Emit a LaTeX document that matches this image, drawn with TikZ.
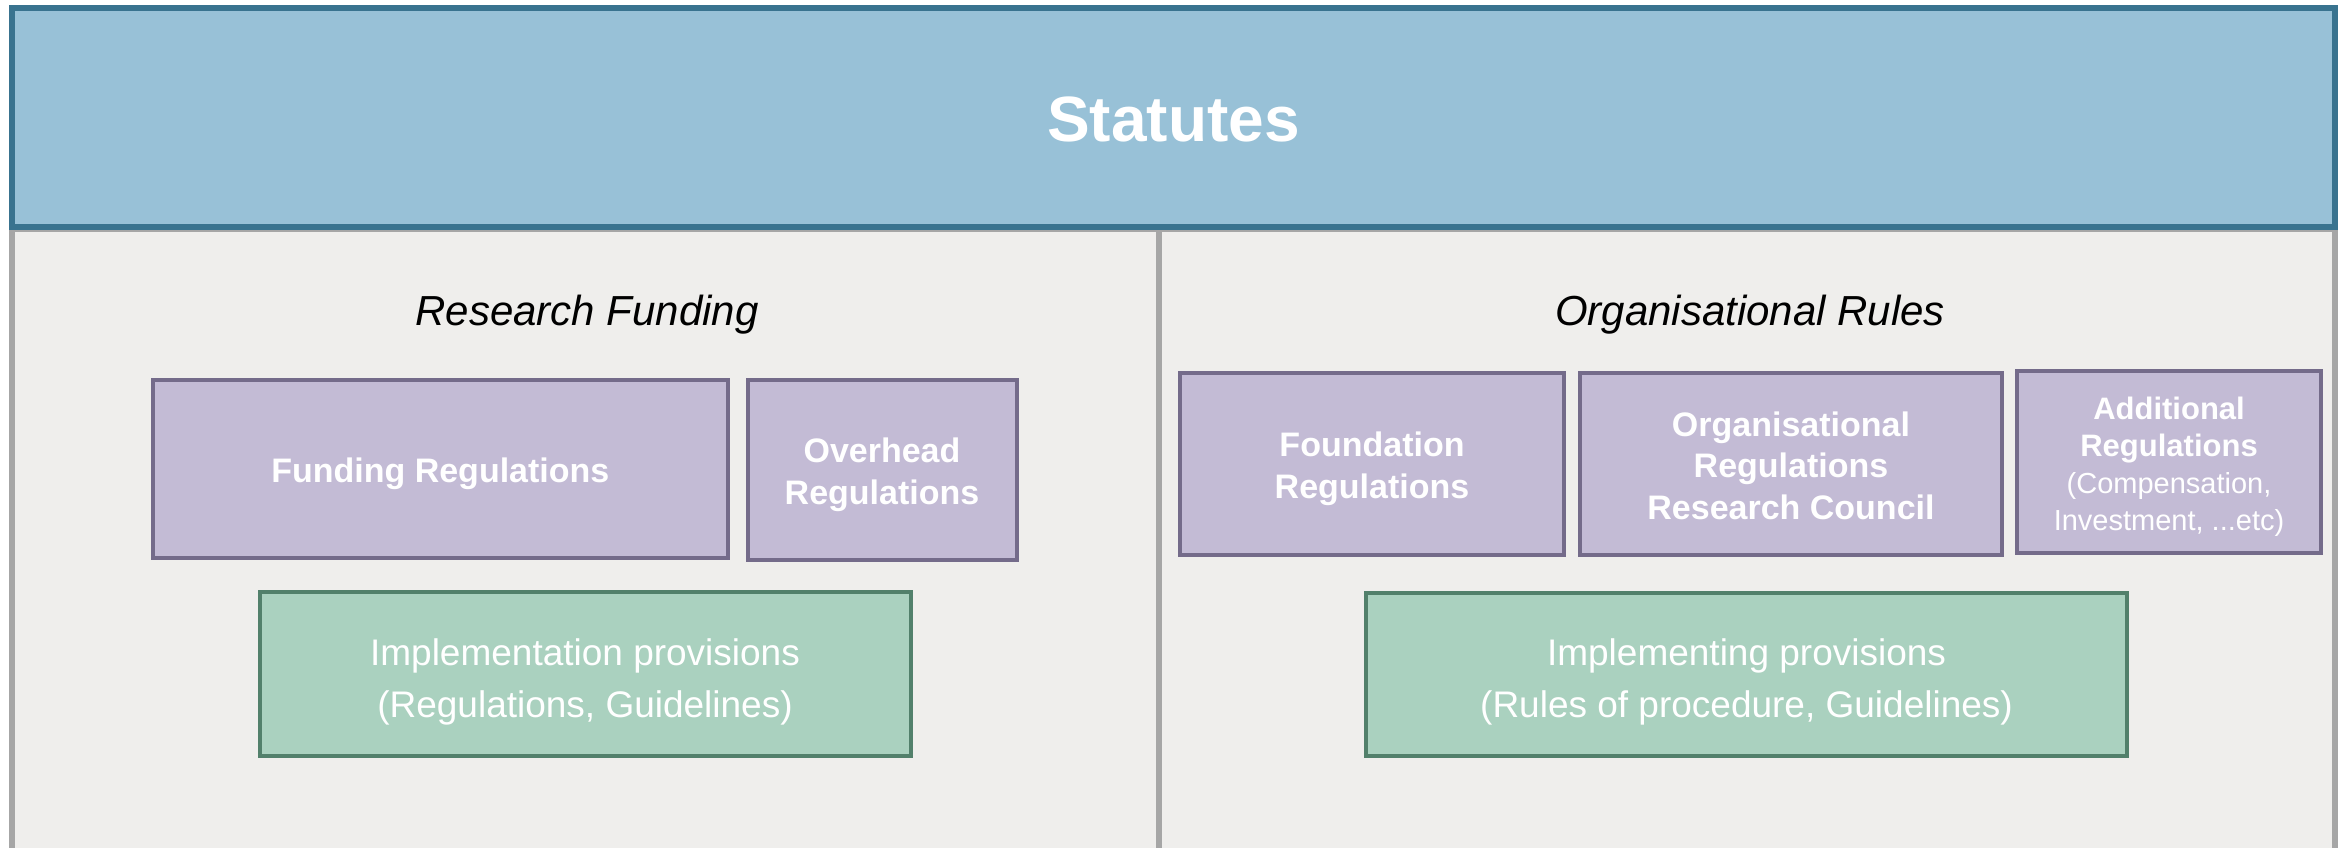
\documentclass[tikz,border=0pt]{standalone}
\usepackage{fontspec}
\setmainfont{Liberation Sans}
\definecolor{statfill}{HTML}{98C1D7}
\definecolor{statdraw}{HTML}{39738F}
\definecolor{panelfill}{HTML}{EFEEEC}
\definecolor{paneldraw}{HTML}{A6A6A6}
\definecolor{purfill}{HTML}{C3BBD5}
\definecolor{purdraw}{HTML}{746B8A}
\definecolor{grnfill}{HTML}{AAD1BF}
\definecolor{grndraw}{HTML}{52806B}
\newcommand\upstrut[1]{\rule{0pt}{#1}}
\tikzset{
  purbox/.style={draw=purdraw, fill=purfill, line width=4pt, inner sep=0pt,
    text=white, align=center, font=\fontsize{34}{41.5}\selectfont\bfseries},
  grnbox/.style={draw=grndraw, fill=grnfill, line width=4pt, inner sep=0pt,
    text=white, align=center, font=\fontsize{37}{52}\selectfont},
  sectitle/.style={anchor=base, inner sep=0pt, font=\fontsize{42}{50}\selectfont\itshape}
}
\begin{document}
\begin{tikzpicture}[x=1pt,y=-1pt]
\useasboundingbox[fill=white] (0,0) rectangle (2348,848);
\begin{scope}
\clip (0,0) rectangle (2348,848);
\draw[fill=panelfill, draw=paneldraw, line width=6pt] (12,229) rectangle (2335,900);
\draw[draw=paneldraw, line width=6pt] (1159,229) -- (1159,900);
\end{scope}
\node[draw=statdraw, fill=statfill, line width=6pt, inner sep=0pt,
  minimum width=2323pt, minimum height=219pt, text=white,
  font=\fontsize{64}{70}\selectfont\bfseries] (stat) at (1173.5,117.5) {\upstrut{49pt}Statutes};
\node[sectitle] (rf) at (587,325) {Research Funding};
\node[sectitle] (or) at (1750,325) {Organisational Rules};
\node[purbox, minimum width=575pt, minimum height=178pt] (fund) at (440.3,469) {\upstrut{34pt}Funding Regulations};
\node[purbox, minimum width=269pt, minimum height=180pt] (over) at (882,470) {\upstrut{34pt}Overhead\\Regulations};
\node[grnbox, minimum width=651pt, minimum height=164pt] (impl) at (585,674) {\upstrut{42pt}Implementation provisions\\(Regulations, Guidelines)};
\node[purbox, minimum width=384pt, minimum height=182pt] (found) at (1372,464) {\upstrut{34pt}Foundation\\Regulations};
\node[purbox, minimum width=422pt, minimum height=182pt] (org) at (1791,464) {\upstrut{28pt}Organisational\\Regulations\\Research Council};
\node[purbox, minimum width=304pt, minimum height=182pt, font=\fontsize{31}{37}\selectfont\bfseries] (add) at (2169,462)
  {\upstrut{32pt}Additional\\Regulations\\{\fontsize{29}{37}\selectfont\mdseries (Compensation,}\\{\fontsize{29}{37}\selectfont\mdseries Investment, ...etc)}};
\node[grnbox, minimum width=761pt, minimum height=163pt] (implr) at (1746.5,674.5) {\upstrut{42pt}Implementing provisions\\(Rules of procedure, Guidelines)};
\end{tikzpicture}
\end{document}
